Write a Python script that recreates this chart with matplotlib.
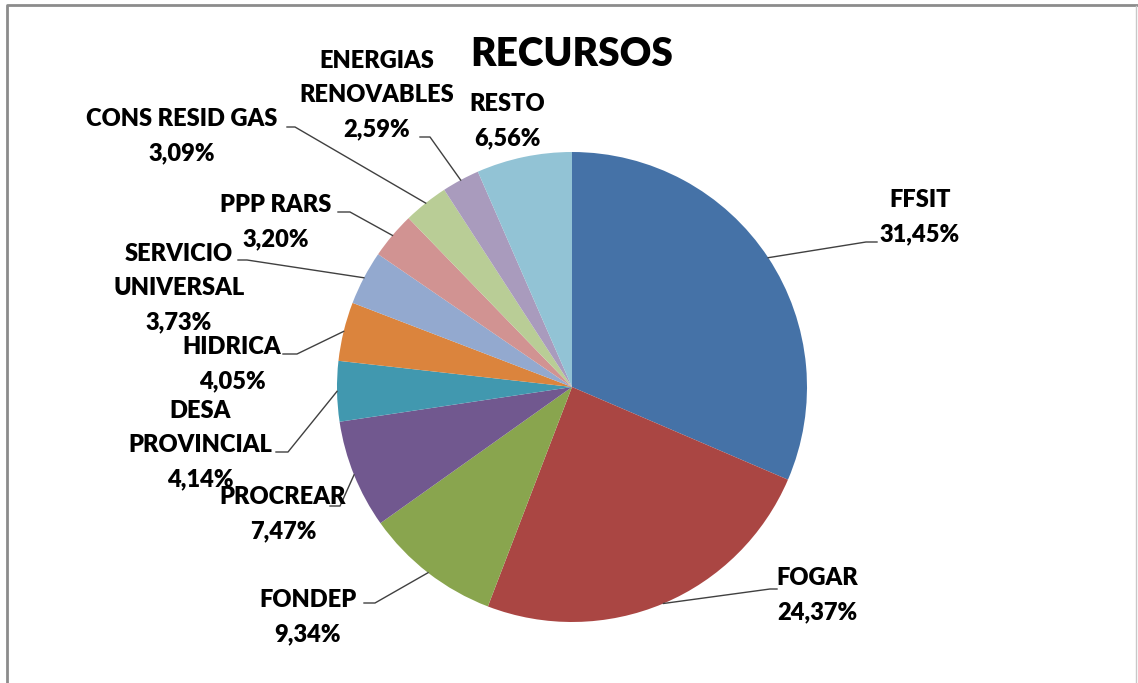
import numpy as np
import matplotlib
matplotlib.use('Agg')
import matplotlib.pyplot as plt

# Data
labels = ['FFSIT', 'FOGAR', 'FONDEP', 'PROCREAR', 'DESA\nPROVINCIAL', 'HIDRICA',
          'SERVICIO\nUNIVERSAL', 'PPP RARS', 'CONS RESID GAS', 'ENERGIAS\nRENOVABLES', 'RESTO']
shares = [31.45, 24.37, 9.34, 7.47, 4.14, 4.05, 3.73, 3.20, 3.09, 2.59, 6.56]
colors = ['#4572A7', '#AA4643', '#89A54E', '#71588F', '#4198AF', '#DB843D',
          '#93A9CF', '#D19392', '#B9CD96', '#A99BBD', '#92C3D5']

W, H = 1138, 683

# Layout (pixel coords, y downward): label center x, first line center y
label_pos = [(920, 200), (817, 578), (308, 600), (283, 497), (200, 411), (232, 347),
             (179, 254), (276, 205), (182, 119), (377, 61), (507, 104)]
# leader elbow: (elbow x, elbow y, end x) ; None = no leader
leaders = [(866, 242, 877), (770, 589, 777), (375, 603, 364), (340, 506, 330),
           (288, 452, 276), (297, 354, 283), (247, 260, 238), (350, 212, 338),
           (295, 127, 287), (430, 137, 420), None]
line_step = 34


def fy(y):
    return H - y


fig = plt.figure(figsize=(W / 100, H / 100), dpi=100)
ax = fig.add_axes([0, 0, 1, 1])

cx, cy, r = 572, 387, 235
wedges, _ = ax.pie(shares, colors=colors, startangle=90, counterclock=False,
                   center=(cx, fy(cy)), radius=r, wedgeprops=dict(linewidth=0))
ax.set_xlim(0, W)
ax.set_ylim(0, H)
ax.set_aspect('equal')
ax.axis('off')

font = dict(family=['Lato', 'DejaVu Sans'], fontweight='heavy', color='black')

for w, name, val, pos, ld in zip(wedges, labels, shares, label_pos, leaders):
    lines = name.split('\n') + [f'{val:.2f}%'.replace('.', ',')]
    x, y = pos
    for i, t in enumerate(lines):
        ax.text(x, fy(y + i * line_step), t, ha='center', va='center', fontsize=17, **font)
    if ld is not None:
        mid = np.deg2rad((w.theta1 + w.theta2) / 2)
        ex = cx + r * np.cos(mid)
        ey = fy(cy) + r * np.sin(mid)
        ax.plot([ex, ld[0], ld[2]], [ey, fy(ld[1]), fy(ld[1])], color='#404040', lw=1)

ax.text(572, fy(54), 'RECURSOS', ha='center', va='center', fontsize=28, **font)

# chart frame
ax.plot([7, 7, W], [0, fy(5), fy(5)], color='#8c8c8c', lw=2, clip_on=False)
ax.plot([1136.5, 1136.5], [0, fy(6)], color='#c8c8c8', lw=1, clip_on=False)

fig.savefig('out.png', dpi=100)
